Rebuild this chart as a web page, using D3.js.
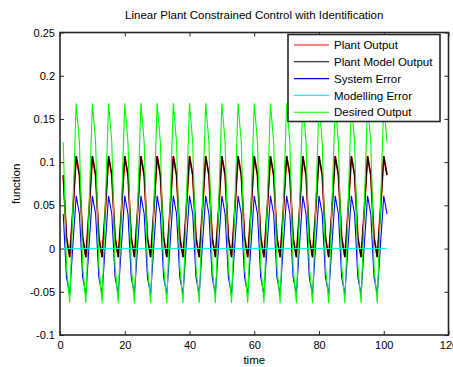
<!DOCTYPE html>
<html>
<head>
<meta charset="utf-8">
<script src="https://cdn.jsdelivr.net/npm/d3@7"></script>
<style>
  html, body { margin: 0; padding: 0; background: #fff; }
  svg { display: block; font-family: "Liberation Sans", Arial, Helvetica, sans-serif; }
</style>
</head>
<body>
<svg id="chart" width="453" height="367"></svg>
<script>
// Sample instants (one sample per time step)
const time = d3.range(1, 102);

// Desired (reference) output
const desiredOutput = [
  0.123, -0.02, -0.063, 0.05, 0.168, 0.123, -0.02, -0.063, 0.05, 0.168, 0.123, -0.02, -0.063, 0.05, 0.168, 0.123, -0.02, -0.063, 0.05, 0.168, 0.123, -0.02, -0.063, 0.05, 0.168,
  0.123, -0.02, -0.063, 0.05, 0.168, 0.123, -0.02, -0.063, 0.05, 0.168, 0.123, -0.02, -0.063, 0.05, 0.168, 0.123, -0.02, -0.063, 0.05, 0.168, 0.123, -0.02, -0.063, 0.05, 0.168,
  0.123, -0.02, -0.063, 0.05, 0.168, 0.123, -0.02, -0.063, 0.05, 0.168, 0.123, -0.02, -0.063, 0.05, 0.168, 0.123, -0.02, -0.063, 0.05, 0.168, 0.123, -0.02, -0.063, 0.05, 0.168,
  0.123, -0.02, -0.063, 0.05, 0.168, 0.123, -0.02, -0.063, 0.05, 0.168, 0.123, -0.02, -0.063, 0.05, 0.168, 0.123, -0.02, -0.063, 0.05, 0.168, 0.123, -0.02, -0.063, 0.05, 0.168,
  0.123
];

// Plant output
const plantOutput = [
  0.085, 0.013, -0.01, 0.045, 0.107, 0.085, 0.013, -0.01, 0.045, 0.107, 0.085, 0.013, -0.01, 0.045, 0.107, 0.085, 0.013, -0.01, 0.045, 0.107, 0.085, 0.013, -0.01, 0.045, 0.107,
  0.085, 0.013, -0.01, 0.045, 0.107, 0.085, 0.013, -0.01, 0.045, 0.107, 0.085, 0.013, -0.01, 0.045, 0.107, 0.085, 0.013, -0.01, 0.045, 0.107, 0.085, 0.013, -0.01, 0.045, 0.107,
  0.085, 0.013, -0.01, 0.045, 0.107, 0.085, 0.013, -0.01, 0.045, 0.107, 0.085, 0.013, -0.01, 0.045, 0.107, 0.085, 0.013, -0.01, 0.045, 0.107, 0.085, 0.013, -0.01, 0.045, 0.107,
  0.085, 0.013, -0.01, 0.045, 0.107, 0.085, 0.013, -0.01, 0.045, 0.107, 0.085, 0.013, -0.01, 0.045, 0.107, 0.085, 0.013, -0.01, 0.045, 0.107, 0.085, 0.013, -0.01, 0.045, 0.107,
  0.085
];

// Identified plant model output
const plantModelOutput = [
  0.085, 0.013, -0.01, 0.045, 0.107, 0.085, 0.013, -0.01, 0.045, 0.107, 0.085, 0.013, -0.01, 0.045, 0.107, 0.085, 0.013, -0.01, 0.045, 0.107, 0.085, 0.013, -0.01, 0.045, 0.107,
  0.085, 0.013, -0.01, 0.045, 0.107, 0.085, 0.013, -0.01, 0.045, 0.107, 0.085, 0.013, -0.01, 0.045, 0.107, 0.085, 0.013, -0.01, 0.045, 0.107, 0.085, 0.013, -0.01, 0.045, 0.107,
  0.085, 0.013, -0.01, 0.045, 0.107, 0.085, 0.013, -0.01, 0.045, 0.107, 0.085, 0.013, -0.01, 0.045, 0.107, 0.085, 0.013, -0.01, 0.045, 0.107, 0.085, 0.013, -0.01, 0.045, 0.107,
  0.085, 0.013, -0.01, 0.045, 0.107, 0.085, 0.013, -0.01, 0.045, 0.107, 0.085, 0.013, -0.01, 0.045, 0.107, 0.085, 0.013, -0.01, 0.045, 0.107, 0.085, 0.013, -0.01, 0.045, 0.107,
  0.085
];

// System error (desired minus plant output)
const systemError = [
  0.04, -0.033, -0.053, 0.005, 0.061, 0.04, -0.033, -0.053, 0.005, 0.061, 0.04, -0.033, -0.053, 0.005, 0.061, 0.04, -0.033, -0.053, 0.005, 0.061, 0.04, -0.033, -0.053, 0.005, 0.061,
  0.04, -0.033, -0.053, 0.005, 0.061, 0.04, -0.033, -0.053, 0.005, 0.061, 0.04, -0.033, -0.053, 0.005, 0.061, 0.04, -0.033, -0.053, 0.005, 0.061, 0.04, -0.033, -0.053, 0.005, 0.061,
  0.04, -0.033, -0.053, 0.005, 0.061, 0.04, -0.033, -0.053, 0.005, 0.061, 0.04, -0.033, -0.053, 0.005, 0.061, 0.04, -0.033, -0.053, 0.005, 0.061, 0.04, -0.033, -0.053, 0.005, 0.061,
  0.04, -0.033, -0.053, 0.005, 0.061, 0.04, -0.033, -0.053, 0.005, 0.061, 0.04, -0.033, -0.053, 0.005, 0.061, 0.04, -0.033, -0.053, 0.005, 0.061, 0.04, -0.033, -0.053, 0.005, 0.061,
  0.04
];

// Modelling error (plant minus model)
const modellingError = [
  0, 0, 0, 0, 0, 0, 0, 0, 0, 0, 0, 0, 0, 0, 0, 0, 0, 0, 0, 0, 0, 0, 0, 0, 0,
  0, 0, 0, 0, 0, 0, 0, 0, 0, 0, 0, 0, 0, 0, 0, 0, 0, 0, 0, 0, 0, 0, 0, 0, 0,
  0, 0, 0, 0, 0, 0, 0, 0, 0, 0, 0, 0, 0, 0, 0, 0, 0, 0, 0, 0, 0, 0, 0, 0, 0,
  0, 0, 0, 0, 0, 0, 0, 0, 0, 0, 0, 0, 0, 0, 0, 0, 0, 0, 0, 0, 0, 0, 0, 0, 0,
  0
];

const xTicks = [0, 20, 40, 60, 80, 100, 120];
const xTickLabels = ["0", "20", "40", "60", "80", "100", "120"];
const yTicks = [0.25, 0.2, 0.15, 0.1, 0.05, 0, -0.05, -0.1];
const yTickLabels = ["0.25", "0.2", "0.15", "0.1", "0.05", "0", "-0.05", "-0.1"];

const seriesNames = ["Plant Output", "Plant Model Output", "System Error", "Modelling Error", "Desired Output"];
const seriesColors = ["#ff0000", "#000000", "#0000ff", "#00ffff", "#00ff00"];
const seriesValues = [plantOutput, plantModelOutput, systemError, modellingError, desiredOutput];

(function draw() {
  const svg = d3.select("#chart");
  const plotLeft = 60, plotRight = 448.5, plotTop = 32.5, plotBottom = 335;

  const x = d3.scaleLinear().domain([0, 120]).range([plotLeft, plotRight]);
  const y = d3.scaleLinear().domain([-0.1, 0.25]).range([plotBottom, plotTop]);

  const fontSize = 11;
  const axisColor = "#262626";

  // Plot background
  svg.append("rect").attr("x", plotLeft).attr("y", plotTop)
    .attr("width", plotRight - plotLeft).attr("height", plotBottom - plotTop).attr("fill", "#fff");

  // Data lines, drawn in legend order so the later series sit on top
  const line = d3.line().x((d, i) => x(time[i])).y(d => y(d));
  const lines = svg.append("g");
  seriesValues.forEach((vals, k) => {
    lines.append("path")
      .datum(vals)
      .attr("d", line)
      .attr("fill", "none")
      .attr("stroke", seriesColors[k])
      .attr("stroke-width", k === 0 ? 1.8 : 1.1)
      .attr("stroke-linejoin", "miter");
  });

  // Axes with inward ticks on all four sides
  function styleAxis(g) {
    g.select(".domain").remove();
    g.selectAll(".tick line").attr("stroke", axisColor).attr("stroke-width", 1);
    g.selectAll(".tick text").attr("fill", "#000").attr("font-size", fontSize)
      .attr("font-family", "\"Liberation Sans\", Arial, Helvetica, sans-serif");
  }

  svg.append("g").attr("transform", `translate(0,${plotBottom})`)
    .call(d3.axisBottom(x).tickValues(xTicks).tickFormat((d, i) => xTickLabels[i])
      .tickSizeInner(-4).tickSizeOuter(0).tickPadding(6))
    .call(styleAxis);

  svg.append("g").attr("transform", `translate(0,${plotTop})`)
    .call(d3.axisTop(x).tickValues(xTicks).tickFormat("")
      .tickSizeInner(-4).tickSizeOuter(0))
    .call(styleAxis);

  svg.append("g").attr("transform", `translate(${plotLeft},0)`)
    .call(d3.axisLeft(y).tickValues(yTicks).tickFormat((d, i) => yTickLabels[i])
      .tickSizeInner(-4).tickSizeOuter(0).tickPadding(5))
    .call(styleAxis);

  svg.append("g").attr("transform", `translate(${plotRight},0)`)
    .call(d3.axisRight(y).tickValues(yTicks).tickFormat("")
      .tickSizeInner(-4).tickSizeOuter(0))
    .call(styleAxis);

  // Axes box
  svg.append("rect").attr("x", plotLeft).attr("y", plotTop)
    .attr("width", plotRight - plotLeft).attr("height", plotBottom - plotTop)
    .attr("fill", "none").attr("stroke", axisColor).attr("stroke-width", 1.6);

  // Title and axis labels
  svg.append("text").attr("x", (plotLeft + plotRight) / 2).attr("y", 18.5)
    .attr("text-anchor", "middle").attr("font-size", 11.5)
    .text("Linear Plant Constrained Control with Identification");

  svg.append("text").attr("x", (plotLeft + plotRight) / 2).attr("y", 364)
    .attr("text-anchor", "middle").attr("font-size", 11.5)
    .text("time");

  svg.append("text")
    .attr("transform", `translate(20,${(plotTop + plotBottom) / 2}) rotate(-90)`)
    .attr("text-anchor", "middle").attr("font-size", 11.5)
    .text("function");

  // Legend
  const lg = svg.append("g");
  const lgX = 288, lgY = 34.5, lgW = 152, lgH = 87, rowH = 16.8;
  lg.append("rect").attr("x", lgX).attr("y", lgY).attr("width", lgW).attr("height", lgH)
    .attr("fill", "#fff").attr("stroke", axisColor).attr("stroke-width", 1.6);
  seriesNames.forEach((name, k) => {
    const cy = lgY + 10.5 + k * rowH;
    lg.append("line").attr("x1", 294).attr("x2", 329).attr("y1", cy).attr("y2", cy)
      .attr("stroke", seriesColors[k]).attr("stroke-width", 1.1);
    lg.append("text").attr("x", 334).attr("y", cy).attr("dy", "0.36em")
      .attr("font-size", 11.5).text(name);
  });
})();
</script>
</body>
</html>
